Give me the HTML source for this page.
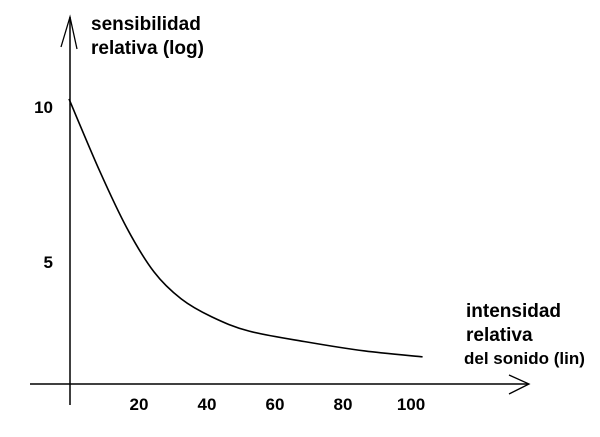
<!DOCTYPE html>
<html><head><meta charset="utf-8"><style>
body{margin:0;background:#fff}
svg text{font-family:"Liberation Sans",Arial,sans-serif;font-weight:bold;fill:#000}
</style></head><body>
<svg id="chart" width="600" height="432" viewBox="0 0 600 432">
<line x1="70" y1="17" x2="70" y2="405" stroke="#000" stroke-width="1.5"/>
<polyline points="61,47 70,17 77,49" fill="none" stroke="#000" stroke-width="1.3"/>
<line x1="30" y1="384" x2="528" y2="384" stroke="#000" stroke-width="1.5"/>
<polyline points="509,375 529,384 509,394" fill="none" stroke="#000" stroke-width="1.3"/>
<text x="91" y="30" font-size="19">sensibilidad</text>
<text x="91" y="54" font-size="19">relativa  (log)</text>
<text x="466" y="317" font-size="19">intensidad</text>
<text x="466" y="341" font-size="19">relativa</text>
<text x="464" y="364" font-size="17">del sonido (lin)</text>
<g id="ticks"></g>
<path id="curve" fill="none" stroke="#000" stroke-width="1.6"/>
</svg>
<script>
const xValues=[0,9,17,25,33,42,53,70,87,104];
const yValues=[10.26,7.94,6.10,4.68,3.81,3.23,2.77,2.42,2.13,1.94];
const xTickLabels=["20","40","60","80","100"];
const xTickValues=[20,40,60,80,100];
const yTickLabels=["10","5"];
const yTickValues=[10,5];
function sx(v){return 69+3.4*v;}
function sy(v){return 107+(10-v)*31;}
const ns="http://www.w3.org/2000/svg";
const g=document.getElementById('ticks');
xTickValues.forEach((v,i)=>{
 const t=document.createElementNS(ns,'text');
 
 
 t.setAttribute('x',sx(v)+2);t.setAttribute('y',410);
 t.setAttribute('text-anchor','middle');t.setAttribute('font-size','17');
 t.textContent=xTickLabels[i];g.appendChild(t);
});
yTickValues.forEach((v,i)=>{
 const t=document.createElementNS(ns,'text');
 
 
 t.setAttribute('x',53);t.setAttribute('y',sy(v)+6);
 t.setAttribute('text-anchor','end');t.setAttribute('font-size','17');
 t.textContent=yTickLabels[i];g.appendChild(t);
});
const pts=xValues.map((x,i)=>[sx(x),sy(yValues[i])]);
let d="M"+pts[0][0]+","+pts[0][1];
for(let i=0;i<pts.length-1;i++){
 const p0=pts[i-1]||pts[i],p1=pts[i],p2=pts[i+1],p3=pts[i+2]||p2;
 const c1=[p1[0]+(p2[0]-p0[0])/6,p1[1]+(p2[1]-p0[1])/6];
 const c2=[p2[0]-(p3[0]-p1[0])/6,p2[1]-(p3[1]-p1[1])/6];
 d+=" C"+c1+" "+c2+" "+p2;
}
document.getElementById('curve').setAttribute('d',d);
</script>
</body></html>
